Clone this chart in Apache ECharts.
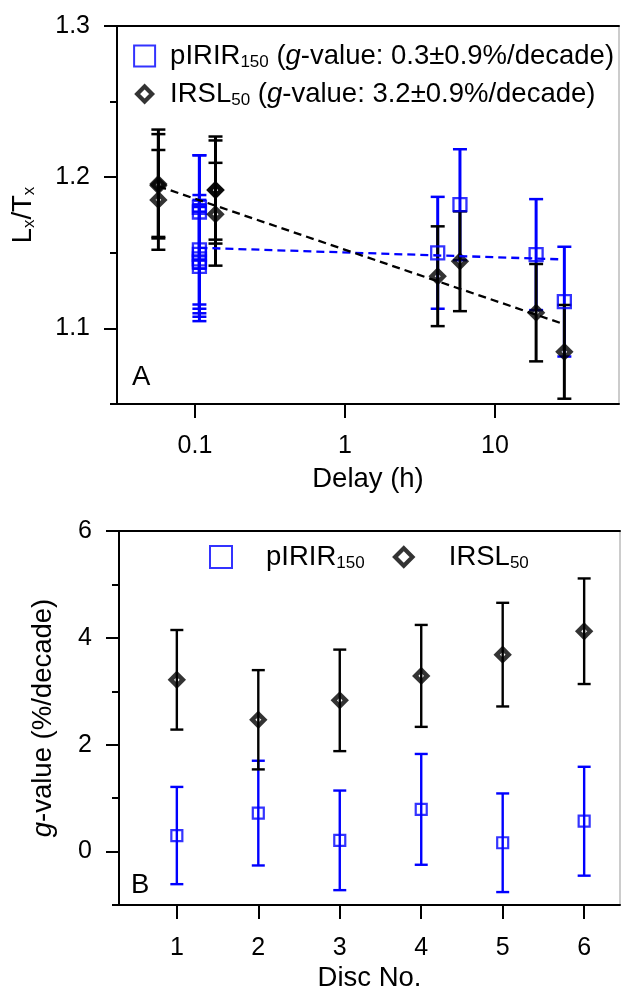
<!DOCTYPE html>
<html><head><meta charset="utf-8">
<script src="https://cdn.jsdelivr.net/npm/echarts@6/dist/echarts.min.js"></script>
<style>html,body{margin:0;padding:0;background:#fff}#c{width:621px;height:993px}</style>
</head><body><div id="c"></div>
<script>
// ---------- Panel A: Lx/Tx vs delay ----------
const pirDelay = [0.107, 0.107, 0.107, 0.107, 0.107, 0.107, 0.107, 4.15, 5.84, 18.8, 29.0];
const pirLxTx  = [1.180, 1.177, 1.152, 1.149, 1.146, 1.144, 1.141, 1.150, 1.1818, 1.1488, 1.1177];
const pirErr   = [0.0345, 0.0375, 0.0362, 0.036, 0.036, 0.0363, 0.0362, 0.037, 0.0367, 0.0367, 0.0363];
const irDelay  = [0.057, 0.057, 0.057, 0.137, 0.137, 0.137, 4.15, 5.84, 18.8, 29.0];
const irLxTx   = [1.1955, 1.1945, 1.185, 1.1915, 1.1915, 1.1755, 1.1345, 1.1444, 1.1104, 1.0845];
const irErr    = [0.036, 0.034, 0.033, 0.0354, 0.0328, 0.034, 0.033, 0.033, 0.0322, 0.031];
const pirFitDelay = [0.107, 29.0];
const pirFitLxTx  = [1.1533, 1.1456];
const irFitDelay  = [0.057, 29.0];
const irFitLxTx   = [1.194, 1.1027];
const delayTicks   = [0.1, 1, 10];
const lxMajorTicks = [1.1, 1.2, 1.3];
const lxMinorTicks = [1.05, 1.15, 1.25];

// ---------- Panel B: g-value per disc ----------
const discNo   = [1, 2, 3, 4, 5, 6];
const pirG     = [0.30, 0.72, 0.21, 0.79, 0.165, 0.568];
const pirGErr  = [0.91, 0.98, 0.932, 1.037, 0.923, 1.019];
const irG      = [3.215, 2.467, 2.83, 3.288, 3.686, 4.124];
const irGErr   = [0.932, 0.929, 0.95, 0.954, 0.97, 0.988];
const gMajorTicks = [0, 2, 4, 6];
const gMinorTicks = [-1, 1, 3, 5];
const discTicks   = [1, 2, 3, 4, 5, 6];

const FONT = 'Liberation Sans, Arial, sans-serif';
const BLUE = '#0000ff';
const BLACK = '#000000';

const rich = {
  t: {fontSize: 27.5, fontFamily: FONT, color: BLACK, lineHeight: 30},
  s: {fontSize: 17, fontFamily: FONT, color: BLACK, lineHeight: 20, verticalAlign: 'bottom'},
  i: {fontSize: 27.5, fontFamily: FONT, color: BLACK, lineHeight: 30, fontStyle: 'italic'}
};

function zip(a, b) { return a.map((v, i) => [v, b[i]]); }

function errBars(xs, ys, es, color, capW, barW, capLW, xi, yi) {
  return {
    type: 'custom', xAxisIndex: xi, yAxisIndex: yi, silent: true,
    data: xs.map((x, i) => [x, ys[i] - es[i], ys[i] + es[i]]),
    encode: {x: 0, y: [1, 2]},
    renderItem: function (params, api) {
      const lo = api.coord([api.value(0), api.value(1)]);
      const hi = api.coord([api.value(0), api.value(2)]);
      const h = capW / 2;
      return {type: 'group', children: [
        {type: 'line', shape: {x1: lo[0], y1: lo[1], x2: hi[0], y2: hi[1]}, style: {stroke: color, lineWidth: barW, fill: null}},
        {type: 'line', shape: {x1: lo[0] - h, y1: lo[1], x2: lo[0] + h, y2: lo[1]}, style: {stroke: color, lineWidth: capLW, fill: null}},
        {type: 'line', shape: {x1: hi[0] - h, y1: hi[1], x2: hi[0] + h, y2: hi[1]}, style: {stroke: color, lineWidth: capLW, fill: null}}
      ]};
    }
  };
}

const axisLineStyle = {show: true, onZero: false, lineStyle: {color: BLACK, width: 2}};
const tickLbl = {color: BLACK, fontSize: 25, fontFamily: FONT};
const nameStyle = {fontSize: 27.5, fontFamily: FONT, color: BLACK};

function topBorder(gi) {
  return {gridIndex: gi, type: 'value', position: 'top', min: 0, max: 1,
    axisLine: axisLineStyle, axisTick: {show: false}, axisLabel: {show: false}, splitLine: {show: false}};
}
function minorY(gi, min, max, vals) {
  return {gridIndex: gi, type: 'value', position: 'left', min: min, max: max,
    axisLine: {show: false}, axisLabel: {show: false}, splitLine: {show: false},
    axisTick: {show: true, customValues: vals, length: 7, lineStyle: {color: BLACK, width: 2}}};
}

const sqLegendStyle = {color: 'transparent', borderColor: BLUE, borderWidth: 2};
const diaLegendStyle = {color: 'transparent', borderColor: BLACK, borderWidth: 4.2};

const option = {
  animation: false,
  backgroundColor: '#ffffff',
  grid: [
    {left: 117, top: 26, width: 502, height: 378, show: true, borderColor: '#999', borderWidth: 1, backgroundColor: 'transparent'},
    {left: 119, top: 531, width: 501, height: 378, show: true, borderColor: '#999', borderWidth: 1, backgroundColor: 'transparent'}
  ],
  legend: [
    {
      orient: 'vertical', left: 132, top: 42, padding: 0, itemWidth: 21, itemHeight: 21, itemGap: 9,
      data: [
        {name: 'pIRIR', icon: 'rect', itemStyle: sqLegendStyle},
        {name: 'IRSL', icon: 'path://M0,0M24,24M3.5,12L12,3.5L20.5,12L12,20.5Z', itemStyle: diaLegendStyle}
      ],
      selectedMode: false,
      formatter: n => n === 'pIRIR'
        ? '{t|pIRIR}{s|150}{t| (}{i|g}{t|-value: 0.3±0.9%/decade)}'
        : '{t|IRSL}{s|50}{t| (}{i|g}{t|-value: 3.2±0.9%/decade)}',
      textStyle: {padding: [0, 0, 0, 10], rich: rich}
    },
    {
      orient: 'horizontal', left: 209, top: 543, padding: 0, itemWidth: 22, itemHeight: 22, itemGap: 26,
      data: [
        {name: 'pIRIR', icon: 'rect', itemStyle: sqLegendStyle},
        {name: 'IRSL', icon: 'path://M0,0M24,24M2.5,12L12,2.5L21.5,12L12,21.5Z', itemStyle: diaLegendStyle}
      ],
      selectedMode: false,
      formatter: n => n === 'pIRIR' ? '{t|pIRIR}{s|150}' : '{t|IRSL}{s|50}',
      textStyle: {padding: [0, 0, 0, 29], rich: rich}
    }
  ],
  xAxis: [
    {
      gridIndex: 0, type: 'log', logBase: 10, min: 0.0302, max: 67.1,
      axisLine: axisLineStyle,
      axisTick: {show: true, customValues: delayTicks, length: 14, lineStyle: {color: BLACK, width: 2}},
      axisLabel: Object.assign({customValues: delayTicks, margin: 30, formatter: v => String(+(+v).toPrecision(6))}, tickLbl),
      splitLine: {show: false}, minorTick: {show: false},
      name: 'Delay (h)', nameLocation: 'middle', nameGap: 61, nameTextStyle: nameStyle
    },
    topBorder(0),
    {
      gridIndex: 1, type: 'value', min: 0.29, max: 6.44,
      axisLine: axisLineStyle,
      axisTick: {show: true, customValues: discTicks, length: 14, lineStyle: {color: BLACK, width: 2}},
      axisLabel: Object.assign({customValues: discTicks, margin: 31}, tickLbl),
      splitLine: {show: false},
      name: 'Disc No.', nameLocation: 'middle', nameGap: 59, nameTextStyle: nameStyle
    },
    topBorder(1)
  ],
  yAxis: [
    {
      gridIndex: 0, type: 'value', min: 1.05, max: 1.3,
      axisLine: axisLineStyle,
      axisTick: {show: true, customValues: lxMajorTicks, length: 13, lineStyle: {color: BLACK, width: 2}},
      axisLabel: Object.assign({customValues: lxMajorTicks, margin: 27, formatter: v => (+v).toFixed(1)}, tickLbl),
      splitLine: {show: false},
      name: '{t|L}{s|x}{t|/T}{s|x}', nameLocation: 'middle', nameGap: 79, nameRotate: 90,
      nameTextStyle: {rich: rich}
    },
    minorY(0, 1.05, 1.3, lxMinorTicks),
    {
      gridIndex: 1, type: 'value', min: -1, max: 6,
      axisLine: axisLineStyle,
      axisTick: {show: true, customValues: gMajorTicks, length: 13, lineStyle: {color: BLACK, width: 2}},
      axisLabel: Object.assign({customValues: gMajorTicks, margin: 27}, tickLbl),
      splitLine: {show: false},
      name: '{i|g}{t|-value (%/decade)}', nameLocation: 'middle', nameGap: 61, nameRotate: 90,
      nameTextStyle: {rich: rich}
    },
    minorY(1, -1, 6, gMinorTicks)
  ],
  graphic: [
    {type: 'text', left: 132, top: 363, style: {text: 'A', fontSize: 27.5, fontFamily: FONT, fill: BLACK}},
    {type: 'text', left: 131, top: 871, style: {text: 'B', fontSize: 27.5, fontFamily: FONT, fill: BLACK}}
  ],
  series: [
    {type: 'line', xAxisIndex: 0, yAxisIndex: 0, data: zip(pirFitDelay, pirFitLxTx), symbol: 'none', silent: true,
      lineStyle: {color: BLUE, width: 2.3, type: [8, 5]}},
    errBars(pirDelay, pirLxTx, pirErr, BLUE, 14, 3, 2.5, 0, 0),
    {type: 'scatter', name: 'pIRIR', xAxisIndex: 0, yAxisIndex: 0, data: zip(pirDelay, pirLxTx),
      symbol: 'rect', symbolSize: 13, itemStyle: {color: 'transparent', borderColor: BLUE, borderWidth: 2.3}},
    {type: 'line', xAxisIndex: 0, yAxisIndex: 0, data: zip(irFitDelay, irFitLxTx), symbol: 'none', silent: true,
      lineStyle: {color: BLACK, width: 2.3, type: [8, 5]}},
    errBars(irDelay, irLxTx, irErr, BLACK, 14, 3, 2.5, 0, 0),
    {type: 'scatter', name: 'IRSL', xAxisIndex: 0, yAxisIndex: 0, data: zip(irDelay, irLxTx),
      symbol: 'diamond', symbolSize: 12, itemStyle: {color: 'transparent', borderColor: BLACK, borderWidth: 4.5}},

    errBars(discNo, pirG, pirGErr, BLUE, 13, 2.4, 2.4, 2, 2),
    {type: 'scatter', name: 'pIRIR', xAxisIndex: 2, yAxisIndex: 2, data: zip(discNo, pirG),
      symbol: 'rect', symbolSize: 11, itemStyle: {color: 'transparent', borderColor: BLUE, borderWidth: 2.2}},
    errBars(discNo, irG, irGErr, BLACK, 13, 2.4, 2.4, 2, 2),
    {type: 'scatter', name: 'IRSL', xAxisIndex: 2, yAxisIndex: 2, data: zip(discNo, irG),
      symbol: 'diamond', symbolSize: 12, itemStyle: {color: 'transparent', borderColor: BLACK, borderWidth: 4.5}}
  ]
};

const chart = echarts.init(document.getElementById('c'), null, {renderer: 'canvas'});
chart.setOption(option);
</script>
</body></html>
